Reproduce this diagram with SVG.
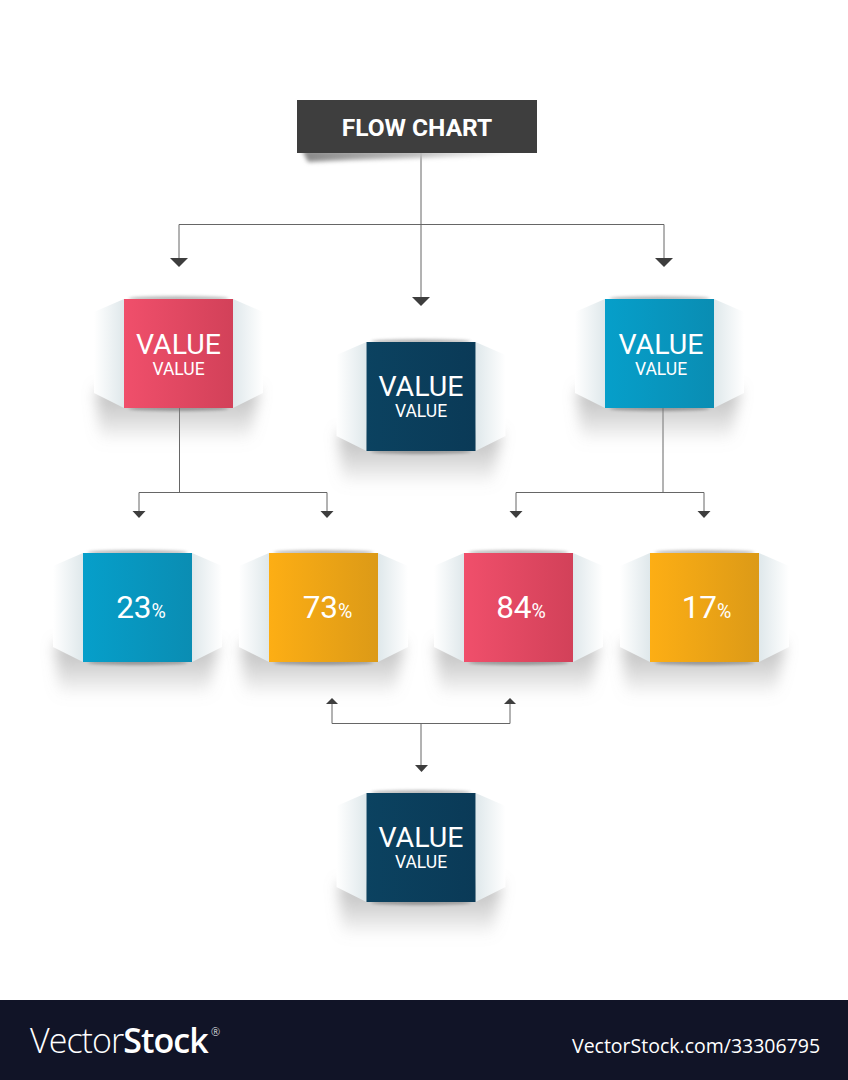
<svg xmlns="http://www.w3.org/2000/svg" xmlns:xlink="http://www.w3.org/1999/xlink" width="848" height="1080" viewBox="0 0 848 1080">
<style>
.t{font-family:Roboto,"Liberation Sans",sans-serif;fill:#fff;text-anchor:middle}
.big{font-size:28.500px;font-weight:400}
.small{font-size:17.500px;font-weight:400}
.num{font-size:31.500px;font-weight:400}
.pct{font-size:19.500px;font-weight:400}
.line{fill:none;stroke:#666;stroke-width:1}
.vs{font-family:"Open Sans","Liberation Sans",sans-serif;fill:#fff}
</style>
<defs>
<linearGradient id="gRed"><stop offset="0" stop-color="#f04f6b"/><stop offset="1" stop-color="#d24159"/></linearGradient>
<linearGradient id="gBlue"><stop offset="0" stop-color="#069fca"/><stop offset="1" stop-color="#0a8db3"/></linearGradient>
<linearGradient id="gNavy"><stop offset="0" stop-color="#0b4260"/><stop offset="1" stop-color="#0a3a57"/></linearGradient>
<linearGradient id="gAmber"><stop offset="0" stop-color="#fdae14"/><stop offset="1" stop-color="#dc9a17"/></linearGradient>
<linearGradient id="wingL" gradientUnits="userSpaceOnUse" x1="0" y1="0" x2="-30" y2="0"><stop offset="0" stop-color="#dfe8eb"/><stop offset="1" stop-color="#fff"/></linearGradient>
<linearGradient id="wingR" gradientUnits="userSpaceOnUse" x1="109" y1="0" x2="139" y2="0"><stop offset="0" stop-color="#dfe8eb"/><stop offset="1" stop-color="#fff"/></linearGradient>
<linearGradient id="shadeV" gradientUnits="userSpaceOnUse" x1="0" y1="94" x2="0" y2="144"><stop offset="0" stop-color="#999" stop-opacity=".62"/><stop offset=".5" stop-color="#999" stop-opacity=".36"/><stop offset="1" stop-color="#999" stop-opacity="0"/></linearGradient>
<linearGradient id="headShade" gradientUnits="userSpaceOnUse" x1="300" y1="0" x2="530" y2="0"><stop offset="0" stop-color="#888"/><stop offset=".5" stop-color="#bbb"/><stop offset="1" stop-color="#e5e5e5" stop-opacity=".2"/></linearGradient>
<filter id="blurBig" filterUnits="userSpaceOnUse" x="-70" y="60" width="250" height="120"><feGaussianBlur stdDeviation="7"/></filter>
<filter id="blurEdge" filterUnits="userSpaceOnUse" x="-20" y="-15" width="150" height="140"><feGaussianBlur stdDeviation="1.400"/></filter>
<filter id="blurHead" filterUnits="userSpaceOnUse" x="280" y="140" width="280" height="40"><feGaussianBlur stdDeviation="2"/></filter>
<g id="back">
<polygon points="-28,90 135,90 126,142 -24,142" fill="url(#shadeV)" filter="url(#blurBig)"/>
<polygon points="0,0 -30,13 -30,94 0,109" fill="url(#wingL)"/>
<polygon points="109,0 139,13 139,94 109,109" fill="url(#wingR)"/>
<ellipse cx="54.500" cy="-0.500" rx="50" ry="2.400" fill="#777" opacity=".5" filter="url(#blurEdge)"/>
<ellipse cx="54.500" cy="109.500" rx="50" ry="2.400" fill="#666" opacity=".55" filter="url(#blurEdge)"/>
</g>
</defs>
<rect width="848" height="1080" fill="#fff"/>

<g id="connectors">
<path class="line" d="M421 153V297M179 258V224.500H664V258"/>
<path class="line" d="M179.500 408V492.500M139 511V492.500H327V511"/>
<path class="line" d="M663 408V492.500M516 511V492.500H704V511"/>
<path class="line" d="M332 704V723.500H510V704M421 723V765"/>
<g fill="#3d3d3d">
<polygon points="170,258 188,258 179,267"/>
<polygon points="655,258 673,258 664,267"/>
<polygon points="412,297 430,297 421,306"/>
<polygon points="132.500,511 145.500,511 139,518"/>
<polygon points="320.500,511 333.500,511 327,518"/>
<polygon points="509.500,511 522.500,511 516,518"/>
<polygon points="697.500,511 710.500,511 704,518"/>
<polygon points="326,704 338,704 332,698"/>
<polygon points="504,704 516,704 510,698"/>
<polygon points="415,765 428,765 421.500,772"/>
</g>
</g>

<g id="node-title">
<polygon points="302,150 535,150 480,156 350,160 308,162" fill="url(#headShade)" filter="url(#blurHead)"/>
<rect x="297" y="100" width="240" height="53" fill="#3e3e3e"/>
<text class="t" x="417" y="136" font-size="24.500" font-weight="700">FLOW CHART</text>
</g>

<g id="node-value-red" transform="translate(124 299)">
<use href="#back" xlink:href="#back"/>
<rect width="109" height="109" fill="url(#gRed)"/>
<text class="t big" x="54.500" y="55">VALUE</text>
<text class="t small" x="54.500" y="76">VALUE</text>
</g>
<g id="node-value-navy" transform="translate(366.500 342)">
<use href="#back" xlink:href="#back"/>
<rect width="109" height="109" fill="url(#gNavy)"/>
<text class="t big" x="54.500" y="54">VALUE</text>
<text class="t small" x="54.500" y="75">VALUE</text>
</g>
<g id="node-value-blue" transform="translate(605 299)">
<use href="#back" xlink:href="#back"/>
<rect width="109" height="109" fill="url(#gBlue)"/>
<text class="t big" x="56" y="55">VALUE</text>
<text class="t small" x="56" y="76">VALUE</text>
</g>

<g id="node-23" transform="translate(83 553)">
<use href="#back" xlink:href="#back"/>
<rect width="109" height="109" fill="url(#gBlue)"/>
<text class="t" x="58" y="65"><tspan class="num">23</tspan><tspan class="pct">%</tspan></text>
</g>
<g id="node-73" transform="translate(269 553)">
<use href="#back" xlink:href="#back"/>
<rect width="109" height="109" fill="url(#gAmber)"/>
<text class="t" x="58.500" y="65"><tspan class="num">73</tspan><tspan class="pct">%</tspan></text>
</g>
<g id="node-84" transform="translate(464 553)">
<use href="#back" xlink:href="#back"/>
<rect width="109" height="109" fill="url(#gRed)"/>
<text class="t" x="57" y="65"><tspan class="num">84</tspan><tspan class="pct">%</tspan></text>
</g>
<g id="node-17" transform="translate(650 553)">
<use href="#back" xlink:href="#back"/>
<rect width="109" height="109" fill="url(#gAmber)"/>
<text class="t" x="56.500" y="65"><tspan class="num">17</tspan><tspan class="pct">%</tspan></text>
</g>

<g id="node-value-bottom" transform="translate(366.500 793)">
<use href="#back" xlink:href="#back"/>
<rect width="109" height="109" fill="url(#gNavy)"/>
<text class="t big" x="54.500" y="54">VALUE</text>
<text class="t small" x="54.500" y="75">VALUE</text>
</g>

<g id="footer">
<rect y="1000" width="848" height="80" fill="#111427"/>
<text class="vs" x="30" y="1053" font-size="34" letter-spacing="-0.950"><tspan font-weight="300">Vector</tspan><tspan font-weight="600">Stock</tspan></text>
<text class="vs" x="211" y="1036" font-size="11" font-weight="300">®</text>
<text class="vs" x="572" y="1053" font-size="19.500" font-weight="400">VectorStock.com/33306795</text>
</g>
</svg>
